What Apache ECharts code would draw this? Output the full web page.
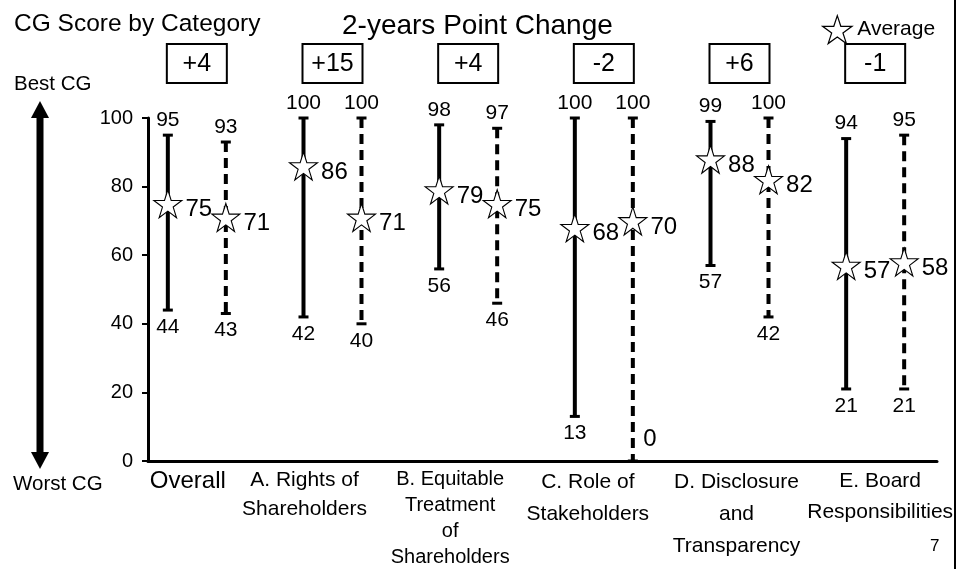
<!DOCTYPE html>
<html>
<head>
<meta charset="utf-8">
<title>CG Score by Category</title>
<script src="https://cdn.jsdelivr.net/npm/echarts@6/dist/echarts.min.js"></script>
<style>
  html, body { margin: 0; padding: 0; background: #fff; }
  #chart { width: 958px; height: 569px; }
</style>
</head>
<body>
<div id="chart"></div>
<script>
// categories, as on the slide
const categories = [
  'Overall',
  'A. Rights of\nShareholders',
  'B. Equitable\nTreatment\nof\nShareholders',
  'C. Role of\nStakeholders',
  'D. Disclosure\nand\nTransparency',
  'E. Board\nResponsibilities'
]
// latest year (solid line)
const nowMin = [44, 42, 56, 13, 57, 21]
const nowMax = [95, 100, 98, 100, 99, 94]
const nowAvg = [75, 86, 79, 68, 88, 57]
// two years before (dashed line)
const prevMin = [43, 40, 46, 0, 42, 21]
const prevMax = [93, 100, 97, 100, 100, 95]
const prevAvg = [71, 71, 75, 70, 82, 58]
const yTicks = [0, 20, 40, 60, 80, 100]

const FONT = 'Liberation Sans, Arial, sans-serif'
const STAR = 'path://M50,2 L61.2,36.2 L97,36.2 L68,57.3 L79.2,91.5 L50,70.3 L20.8,91.5 L32,57.3 L3,36.2 L38.8,36.2 Z'
const PAIR = 29 // px between category centre and each bar

// category label look: font size, line height, horizontal nudge (px, minus = left)
const labelLook = [
  { size: 24, lh: 31, nudge: -9 },
  { size: 21, lh: 29, nudge: -28 },
  { size: 20, lh: 26, nudge: -18 },
  { size: 21, lh: 32, nudge: -16 },
  { size: 21, lh: 32, nudge: -3 },
  { size: 21, lh: 31, nudge: 5 }
]

// range bar with caps and min / max labels
function rangeBar(shift, dashed) {
  return function (params, api) {
    const i = api.value(0)
    const lo = api.value(1)
    const hi = api.value(2)
    const x = api.coord([i, 0])[0] + shift
    const yTop = api.coord([i, hi])[1]
    const yBot = api.coord([i, lo])[1]
    const txt = { fill: '#000', fontSize: 21, fontFamily: FONT, align: 'center', verticalAlign: 'middle' }
    const children = [
      {
        type: 'line',
        shape: { x1: x, y1: yTop, x2: x, y2: yBot },
        style: { stroke: '#000', lineWidth: 4, lineDash: dashed ? [10, 6] : null }
      },
      { type: 'rect', shape: { x: x - 5, y: yTop - 1.5, width: 10, height: 3 }, style: { fill: '#000' } },
      { type: 'rect', shape: { x: x - 5, y: yBot - 1.5, width: 10, height: 3 }, style: { fill: '#000' } },
      { type: 'text', x: x, y: yTop - 15, style: Object.assign({ text: String(hi) }, txt) }
    ]
    if (lo === 0) {
      children.push({ type: 'text', x: x + 17, y: yBot - 22, style: Object.assign({}, txt, { text: '0', fontSize: 24 }) })
    } else {
      children.push({ type: 'text', x: x, y: yBot + 17, style: Object.assign({ text: String(lo) }, txt) })
    }
    return { type: 'group', children: children }
  }
}

// boxed point change above each category
function changeBox(params, api) {
  const i = api.value(0)
  const d = api.value(1)
  const x = api.coord([i, 0])[0]
  return {
    type: 'group',
    children: [
      { type: 'rect', shape: { x: x - 30, y: 44, width: 60, height: 39 }, style: { fill: '#fff', stroke: '#000', lineWidth: 2 } },
      {
        type: 'text', x: x, y: 64,
        style: { text: d > 0 ? '+' + d : String(d), fill: '#000', fontSize: 25, fontFamily: FONT, align: 'center', verticalAlign: 'middle' }
      }
    ]
  }
}

// one rich style per category so each label can be nudged like on the slide
const rich = {}
labelLook.forEach((l, i) => {
  rich['c' + i] = {
    fontSize: l.size, lineHeight: l.lh, fontFamily: FONT, color: '#000',
    padding: l.nudge < 0 ? [0, -2 * l.nudge, 0, 0] : [0, 0, 0, 2 * l.nudge]
  }
})

const chart = echarts.init(document.getElementById('chart'))

chart.setOption({
  animation: false,
  backgroundColor: '#fff',
  textStyle: { fontFamily: FONT, color: '#000' },
  title: [
    { text: 'CG Score by Category', left: 9, top: 7, textStyle: { fontSize: 24.5, fontWeight: 'normal', color: '#000', fontFamily: FONT } },
    { text: '2-years Point Change', left: 337, top: 7, textStyle: { fontSize: 28, fontWeight: 'normal', color: '#000', fontFamily: FONT } }
  ],
  legend: {
    data: ['Average'],
    left: 817, top: 10,
    itemWidth: 30, itemHeight: 28, itemGap: 10,
    icon: STAR,
    itemStyle: { color: '#fff', borderColor: '#000', borderWidth: 1.2 },
    textStyle: { fontSize: 21, color: '#000', fontFamily: FONT }
  },
  grid: [
    { left: 148, right: 21, top: 118, bottom: 108 },
    { left: 129, right: 15, top: 118, bottom: 108 }
  ],
  xAxis: [
    {
      gridIndex: 0, type: 'value', min: 0, max: 1,
      axisLine: { show: true, lineStyle: { color: '#000', width: 3 } },
      axisTick: { show: false }, axisLabel: { show: false }, splitLine: { show: false }
    },
    {
      gridIndex: 1, type: 'category', data: categories,
      axisLine: { show: false }, axisTick: { show: false },
      axisLabel: {
        interval: 0, margin: 5, color: '#000', fontFamily: FONT,
        formatter: function (v, idx) {
          return v.split('\n').map(s => '{c' + idx + '|' + s + '}').join('\n')
        },
        rich: rich
      }
    }
  ],
  yAxis: [
    {
      gridIndex: 0, type: 'value', min: 0, max: 100, interval: 20,
      axisLine: { show: true, lineStyle: { color: '#000', width: 3 } },
      axisTick: { show: true, length: 6, lineStyle: { color: '#000', width: 2 } },
      axisLabel: {
        margin: 15, color: '#000', fontSize: 20, fontFamily: FONT,
        formatter: v => (yTicks.indexOf(v) >= 0 ? String(v) : '')
      },
      splitLine: { show: false }
    },
    { gridIndex: 1, type: 'value', min: 0, max: 100, show: false }
  ],
  graphic: [
    // Best / Worst arrow on the left
    { type: 'line', shape: { x1: 40, y1: 112, x2: 40, y2: 458 }, style: { stroke: '#000', lineWidth: 7 } },
    { type: 'polygon', shape: { points: [[40, 101], [31, 118], [49, 118]] }, style: { fill: '#000' } },
    { type: 'polygon', shape: { points: [[40, 469], [31, 452], [49, 452]] }, style: { fill: '#000' } },
    { type: 'text', left: 14, top: 74, style: { text: 'Best CG', fontSize: 20.5, fontFamily: FONT, fill: '#000' } },
    { type: 'text', left: 13, top: 474, style: { text: 'Worst CG', fontSize: 20.5, fontFamily: FONT, fill: '#000' } },
    // slide frame and page number
    { type: 'line', shape: { x1: 955, y1: 0, x2: 955, y2: 569 }, style: { stroke: '#000', lineWidth: 2 } },
    { type: 'text', left: 930, top: 538, style: { text: '7', fontSize: 17, fontFamily: FONT, fill: '#000' } }
  ],
  series: [
    {
      name: 'latest', type: 'custom', xAxisIndex: 1, yAxisIndex: 1,
      renderItem: rangeBar(-PAIR, false),
      encode: { x: 0, y: [1, 2] },
      data: categories.map((c, i) => [i, nowMin[i], nowMax[i]]),
      z: 2
    },
    {
      name: 'two years before', type: 'custom', xAxisIndex: 1, yAxisIndex: 1,
      renderItem: rangeBar(PAIR, true),
      encode: { x: 0, y: [1, 2] },
      data: categories.map((c, i) => [i, prevMin[i], prevMax[i]]),
      z: 2
    },
    {
      name: 'change', type: 'custom', xAxisIndex: 1, yAxisIndex: 1,
      renderItem: changeBox,
      encode: { x: 0, y: 1 },
      data: categories.map((c, i) => [i, nowAvg[i] - prevAvg[i]]),
      z: 2
    },
    {
      name: 'Average', type: 'scatter', xAxisIndex: 1, yAxisIndex: 1,
      data: nowAvg,
      symbol: STAR, symbolSize: 28, symbolOffset: [-PAIR, 0],
      itemStyle: { color: '#fff', borderColor: '#000', borderWidth: 1.1, opacity: 1 },
      label: { show: true, position: 'right', distance: 3, offset: [0, 6], fontSize: 24, color: '#000', fontFamily: FONT },
      z: 5
    },
    {
      name: 'Average', type: 'scatter', xAxisIndex: 1, yAxisIndex: 1,
      data: prevAvg,
      symbol: STAR, symbolSize: 28, symbolOffset: [PAIR, 0],
      itemStyle: { color: '#fff', borderColor: '#000', borderWidth: 1.1, opacity: 1 },
      label: { show: true, position: 'right', distance: 3, offset: [0, 6], fontSize: 24, color: '#000', fontFamily: FONT },
      z: 5
    }
  ]
})
</script>
</body>
</html>
